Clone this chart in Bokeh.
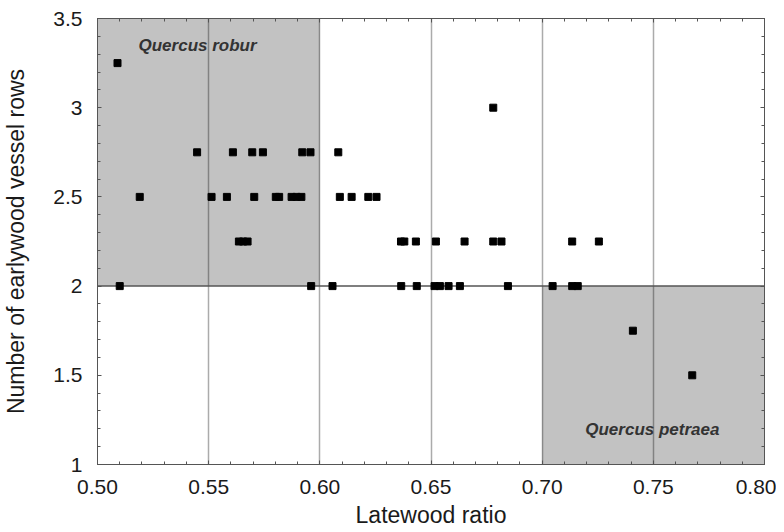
from bokeh.plotting import figure
from bokeh.models import (Range1d, FixedTicker, LinearAxis, BoxAnnotation, Span, Label, Grid,
                          PrintfTickFormatter, CustomLabelingPolicy)
from bokeh.embed import file_html
from bokeh.resources import INLINE

# ---- data ----
latewood_ratio = [
    0.509,
    0.678,
    0.5448, 0.5609, 0.5696, 0.5744, 0.5921, 0.5958, 0.6083,
    0.519, 0.5513, 0.5582, 0.5705, 0.5802, 0.5817, 0.5873, 0.5895, 0.5917, 0.609, 0.6143, 0.6218, 0.6255,
    0.5636, 0.5655, 0.5675, 0.6365, 0.6380, 0.6432, 0.6522, 0.6651, 0.678, 0.6817, 0.7135, 0.7255,
    0.510, 0.5961, 0.6057, 0.6366, 0.6436, 0.6516, 0.654, 0.6579, 0.663, 0.6846, 0.7047, 0.7135, 0.716,
    0.7408,
    0.7675,
]
vessel_rows = [
    3.25,
    3.0,
    2.75, 2.75, 2.75, 2.75, 2.75, 2.75, 2.75,
    2.5, 2.5, 2.5, 2.5, 2.5, 2.5, 2.5, 2.5, 2.5, 2.5, 2.5, 2.5, 2.5,
    2.25, 2.25, 2.25, 2.25, 2.25, 2.25, 2.25, 2.25, 2.25, 2.25, 2.25, 2.25,
    2.0, 2.0, 2.0, 2.0, 2.0, 2.0, 2.0, 2.0, 2.0, 2.0, 2.0, 2.0, 2.0,
    1.75,
    1.5,
]

species_names = ["Quercus robur", "Quercus petraea"]
region_x_from = [0.50, 0.70]
region_x_to = [0.60, 0.80]
region_y_from = [2.0, 1.0]
region_y_to = [3.5, 2.0]
threshold_rows = 2.0

x_ticks = [0.50, 0.55, 0.60, 0.65, 0.70, 0.75, 0.80]
x_grid_values = [0.55, 0.60, 0.65, 0.70, 0.75]
y_ticks = [1.0, 1.5, 2.0, 2.5, 3.0, 3.5]
y_tick_labels = ["1", "1.5", "2", "2.5", "3", "3.5"]

FONT = "'Liberation Sans', Arial, sans-serif"
EDGE = "#555555"

p = figure(width=776, height=532, output_backend="svg", toolbar_location=None,
           x_range=Range1d(0.5, 0.8), y_range=Range1d(1.0, 3.5),
           x_axis_type=None, y_axis_type=None,
           min_border_left=97, min_border_right=12, min_border_top=18, min_border_bottom=68)
p.background_fill_color = "white"
p.border_fill_color = "white"
p.outline_line_color = EDGE
p.outline_line_width = 1

x_minor = [round(0.50 + 0.01 * i, 2) for i in range(31)]
y_minor = [round(1.0 + 0.1 * i, 1) for i in range(26)]

hide_all = CustomLabelingPolicy(code="""
for (const i of indices) { indices.unset(i) }
return indices
""")

def make_axis(ticks, minor, show_labels):
    ax = LinearAxis(ticker=FixedTicker(ticks=ticks, minor_ticks=minor))
    ax.axis_line_color = EDGE
    ax.major_tick_line_color = EDGE
    ax.minor_tick_line_color = EDGE
    ax.major_tick_in = 4
    ax.major_tick_out = 0
    ax.minor_tick_in = 3
    ax.minor_tick_out = 0
    ax.major_label_text_font = FONT
    ax.major_label_text_color = "#1a1a1a"
    ax.axis_label_text_font = FONT
    ax.axis_label_text_font_style = "normal"
    ax.axis_label_text_color = "#1a1a1a"
    if not show_labels:
        ax.major_label_text_font_size = "2px"
        ax.major_label_standoff = 0
        ax.major_label_policy = hide_all
    else:
        ax.major_label_text_font_size = "21px"
    return ax

xb = make_axis(x_ticks, x_minor, True)
xb.formatter = PrintfTickFormatter(format="%.2f")
xb.major_label_standoff = 15
xb.axis_label = "Latewood ratio"
xb.axis_label_text_font_size = "23px"
xb.axis_label_standoff = 5
p.add_layout(xb, "below")

yl = make_axis(y_ticks, y_minor, True)
yl.major_label_overrides = {v: s for v, s in zip(y_ticks, y_tick_labels)}
yl.major_label_standoff = 15
yl.axis_label = "Number of earlywood vessel rows"
yl.axis_label_text_font_size = "23px"
yl.axis_label_standoff = 21
p.add_layout(yl, "left")

xt = make_axis(x_ticks, x_minor, False)
p.add_layout(xt, "above")
yr = make_axis(y_ticks, y_minor, False)
p.add_layout(yr, "right")

# shaded species regions
for x0, x1, y0, y1 in zip(region_x_from, region_x_to, region_y_from, region_y_to):
    p.add_layout(BoxAnnotation(left=x0, right=x1, bottom=y0, top=y1,
                               fill_color="#c2c2c2", fill_alpha=1.0,
                               line_color=None, level="image"))

# vertical grid lines
p.add_layout(Grid(dimension=0, ticker=FixedTicker(ticks=x_grid_values),
                  grid_line_color="black", grid_line_alpha=0.33, grid_line_width=1.5))

p.add_layout(Span(location=threshold_rows, dimension="width", line_color="#555555",
                  line_width=1.5, level="underlay"))

p.scatter(latewood_ratio, vessel_rows, marker="square", size=7,
          fill_color="black", line_color="black")

# species labels
p.add_layout(Label(x=region_x_from[0], y=region_y_to[0], x_offset=41, y_offset=-27,
                   text=species_names[0], text_font=FONT, text_font_size="17px",
                   text_font_style="bold italic", text_color="#333333",
                   text_align="left", text_baseline="alphabetic"))
p.add_layout(Label(x=(region_x_from[1] + region_x_to[1]) / 2, y=region_y_from[1], x_offset=-1, y_offset=35,
                   text=species_names[1], text_font=FONT, text_font_size="17px",
                   text_font_style="bold italic", text_color="#333333",
                   text_align="center", text_baseline="alphabetic"))

open("out.html", "w").write(file_html(p, INLINE))
